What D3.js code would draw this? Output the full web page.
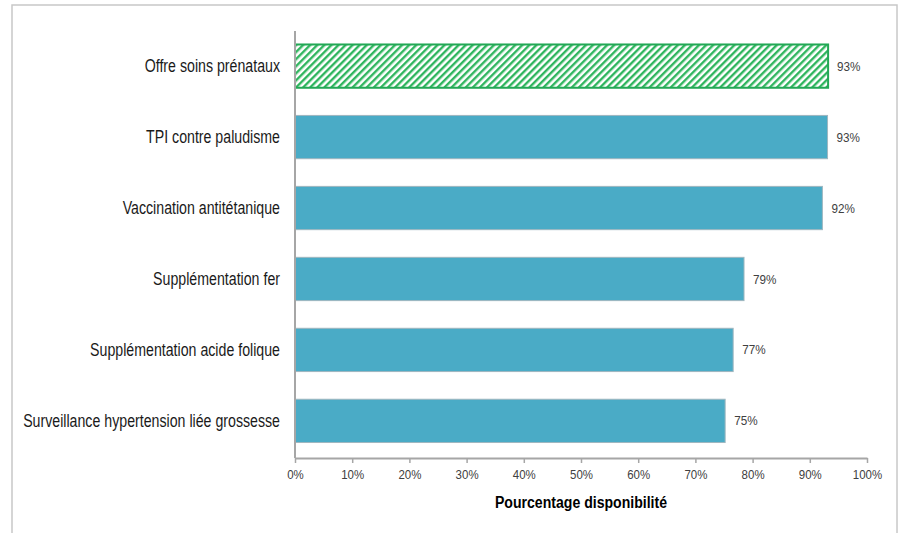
<!DOCTYPE html>
<html>
<head>
<meta charset="utf-8">
<script src="https://cdn.jsdelivr.net/npm/d3@7"></script>
<style>
  html, body { margin: 0; padding: 0; background: #fff; }
  svg { display: block; }
  text { font-family: "Liberation Sans Narrow", "Arial Narrow", "Liberation Sans", sans-serif; }
</style>
</head>
<body>
<svg id="chart" width="904" height="533"></svg>
<script>
const categories = [
  "Offre soins prénataux",
  "TPI contre paludisme",
  "Vaccination antitétanique",
  "Supplémentation fer",
  "Supplémentation acide folique",
  "Surveillance hypertension liée grossesse"
];
const values = [93.2, 93.1, 92.2, 78.5, 76.6, 75.2];
const valueLabels = ["93%", "93%", "92%", "79%", "77%", "75%"];
const highlighted = [true, false, false, false, false, false];
const xTicks = [0, 10, 20, 30, 40, 50, 60, 70, 80, 90, 100];
const axisTitle = "Pourcentage disponibilité";

const svg = d3.select("#chart");
const margin = { left: 295, right: 37, top: 31, bottom: 77 };
const W = 904, H = 533;

function condense(sel, f) {
  sel.each(function() {
    const len = this.getComputedTextLength();
    d3.select(this).attr("textLength", len * f).attr("lengthAdjust", "spacingAndGlyphs");
  });
}

// outer frame
svg.append("rect")
  .attr("x", 12).attr("y", 5)
  .attr("width", 885).attr("height", 540)
  .attr("fill", "#fff").attr("stroke", "#c8c8c8").attr("stroke-width", 1.5);

const defs = svg.append("defs");
const pat = defs.append("pattern")
  .attr("id", "hatch").attr("patternUnits", "userSpaceOnUse")
  .attr("width", 5).attr("height", 5)
  .attr("patternTransform", "rotate(45)");
pat.append("rect").attr("width", 5).attr("height", 5).attr("fill", "#fff");
pat.append("rect").attr("x", 0).attr("y", 0).attr("width", 2.4).attr("height", 5).attr("fill", "#2fb55e");

const x = d3.scaleLinear().domain([0, 100]).range([margin.left, W - margin.right]);
const y = d3.scaleBand().domain(categories).range([margin.top, H - margin.bottom]).paddingInner(0.39).paddingOuter(0.19);

// bars
svg.append("g").selectAll("rect")
  .data(categories)
  .join("rect")
  .attr("x", x(0))
  .attr("y", d => y(d))
  .attr("width", (d, i) => x(values[i]) - x(0))
  .attr("height", y.bandwidth())
  .attr("fill", (d, i) => highlighted[i] ? "url(#hatch)" : "#4aabc6")
  .attr("stroke", (d, i) => highlighted[i] ? "#22a855" : "#9fb6bf")
  .attr("stroke-width", (d, i) => highlighted[i] ? 2 : 1);

// value labels
const vl = svg.append("g").selectAll("text")
  .data(categories)
  .join("text")
  .attr("x", (d, i) => x(values[i]) + 9)
  .attr("y", d => y(d) + y.bandwidth() / 2)
  .attr("dy", "0.35em")
  .attr("font-size", 13)
  .attr("fill", "#404040")
  .text((d, i) => valueLabels[i]);
condense(vl, 0.9);

// category labels
const cl = svg.append("g").selectAll("text")
  .data(categories)
  .join("text")
  .attr("x", 280)
  .attr("y", d => y(d) + y.bandwidth() / 2)
  .attr("dy", "0.35em")
  .attr("text-anchor", "end")
  .attr("font-size", 17.5)
  .attr("fill", "#1a1a1a")
  .text(d => d);
condense(cl, 0.81);

// x axis
const xAxis = d3.axisBottom(x).tickValues(xTicks).tickFormat(d => d + "%").tickSize(5).tickSizeOuter(0);
const gx = svg.append("g").attr("transform", `translate(0,${H - margin.bottom + 2})`).call(xAxis);
gx.select(".domain").attr("stroke", "#a6a6a6").attr("stroke-width", 2);
gx.selectAll(".tick line").attr("stroke", "#a6a6a6").attr("stroke-width", 1.5);
gx.selectAll(".tick text").attr("font-size", 13.5).attr("fill", "#404040").attr("dy", "0.95em")
  .attr("font-family", "'Liberation Sans Narrow', 'Arial Narrow', 'Liberation Sans', sans-serif");
condense(gx.selectAll(".tick text"), 0.85);

// y axis line
svg.append("line")
  .attr("x1", x(0)).attr("x2", x(0))
  .attr("y1", margin.top).attr("y2", H - margin.bottom + 2)
  .attr("stroke", "#a6a6a6").attr("stroke-width", 2);

// axis title
const at = svg.append("text")
  .attr("x", (x(0) + x(100)) / 2)
  .attr("y", 508)
  .attr("text-anchor", "middle")
  .attr("font-size", 16)
  .attr("font-weight", "bold")
  .attr("fill", "#000")
  .text(axisTitle);
condense(at, 0.88);
</script>
</body>
</html>
